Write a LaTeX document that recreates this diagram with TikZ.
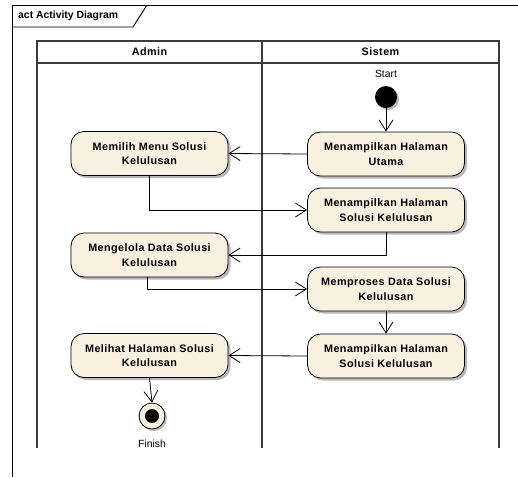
\documentclass[tikz,border=0pt]{standalone}
\usepackage{fontspec}
\setmainfont{Liberation Sans}
\usetikzlibrary{arrows.meta,shadows}
\definecolor{actfill}{RGB}{250,240,224}
\definecolor{lanegray}{RGB}{60,60,60}
\newcommand{\boxfont}{\fontsize{10.8}{14.5}\selectfont\bfseries\addfontfeature{LetterSpace=4}}
\tikzset{
  action/.style={draw=black, line width=0.8pt, fill=actfill, rounded corners=13pt,
    minimum width=157pt, minimum height=44pt, align=center, inner sep=2pt,
    font=\boxfont,
    drop shadow={shadow xshift=2.5pt, shadow yshift=-2.5pt, fill=black, opacity=0.28}},
  flow/.style={draw=black, line width=0.8pt,
    -{Straight Barb[length=11pt, width=14pt, line width=0.8pt]}},
  lane/.style={draw=lanegray, line width=1.3pt},
  lanetitle/.style={font=\boxfont},
  plain/.style={font=\fontsize{10.4}{12}\selectfont}
}
\begin{document}
\begin{tikzpicture}[x=1pt, y=-1pt]
\useasboundingbox (0,0) rectangle (518,477);

% diagram frame and its name tab
\draw[line width=0.9pt] (518,5) -- (12,5) -- (12,477);
\draw[line width=0.9pt] (12,27) -- (133,27) -- (147,5);
\node[anchor=west, inner sep=0pt, font=\fontsize{10.4}{12}\selectfont\bfseries] (frametitle) at (18,16) {act Activity Diagram};

% swimlanes
\draw[lane] (37,448) -- (37,41) -- (499,41) -- (499,448);
\draw[lane] (262,41) -- (262,448);
\draw[lane] (37,63) -- (499,63);
\node[lanetitle] (admin) at (149.5,52) {Admin};
\node[lanetitle] (sistem) at (380.5,52) {Sistem};

% initial node
\node[plain] (startlabel) at (386,74) {Start};
\node[circle, fill=black, minimum size=22pt, inner sep=0pt,
  drop shadow={shadow xshift=2pt, shadow yshift=-2pt, fill=black, opacity=0.28}] (start) at (386,97) {};

% actions
\node[action] (utama)  at (386,154)   {Menampilkan Halaman\\Utama};
\node[action] (pilih)  at (149.5,153.5) {Memilih Menu Solusi\\Kelulusan};
\node[action] (hal1)   at (386,210)   {Menampilkan Halaman\\Solusi Kelulusan};
\node[action] (kelola) at (149.5,255) {Mengelola Data Solusi\\Kelulusan};
\node[action] (proses) at (386,289)   {Memproses Data Solusi\\Kelulusan};
\node[action] (hal2)   at (386,356)   {Menampilkan Halaman\\Solusi Kelulusan};
\node[action] (lihat)  at (149.5,355.5) {Melihat Halaman Solusi\\Kelulusan};

% final node
\node[circle, draw=black, line width=0.8pt, fill=actfill, minimum size=26pt, inner sep=0pt,
  drop shadow={shadow xshift=2pt, shadow yshift=-2pt, fill=black, opacity=0.28}] (finish) at (152,416) {};
\fill[black] (finish.center) circle (7pt);
\node[plain] (finishlabel) at (152,444) {Finish};

% control flows
\draw[flow] (start) -- (utama.north);
\draw[flow] (utama.west) -- (pilih.east);
\draw[flow] (pilih.south) |- (hal1.west);
\draw[flow] (hal1.south) |- (kelola.east);
\draw[flow] ([xshift=-2.5pt]kelola.south) |- (proses.west);
\draw[flow] (proses.south) -- (hal2.north);
\draw[flow] (hal2.west) -- (lihat.east);
\draw[flow] (lihat.south) -- (finish.north);
\end{tikzpicture}
\end{document}
